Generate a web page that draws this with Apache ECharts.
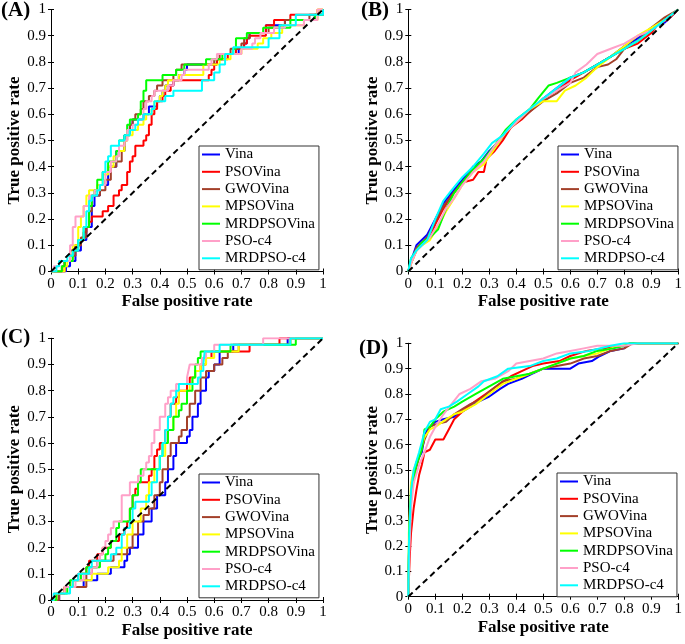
<!DOCTYPE html>
<html><head><meta charset="utf-8">
<script src="https://cdn.jsdelivr.net/npm/echarts@6/dist/echarts.min.js"></script>
<style>html,body{margin:0;padding:0;background:#fff}#c{width:685px;height:644px}</style>
</head><body><div id="c"></div>
<script>
const seriesNames = ['Vina','PSOVina','GWOVina','MPSOVina','MRDPSOVina','PSO-c4','MRDPSO-c4'];
const panelLabels = ['(A)','(B)','(C)','(D)'];
const tickLabels = ['0','0.1','0.2','0.3','0.4','0.5','0.6','0.7','0.8','0.9','1'];
const xAxisTitle = 'False positive rate';
const yAxisTitle = 'True positive rate';
const diagonal = [[0,0],[1,1]];

// ---- Panel A (step curves: [fpr, tpr] at start of each horizontal run)
const A_Vina = [[0,0],[0.055,0.02],[0.07,0.04],[0.09,0.08],[0.11,0.12],[0.13,0.17],[0.15,0.25],[0.16,0.29],[0.18,0.33],[0.21,0.40],[0.24,0.46],[0.27,0.52],[0.29,0.56],[0.30,0.58],[0.34,0.60],[0.36,0.63],[0.39,0.65],[0.40,0.67],[0.41,0.69],[0.42,0.71],[0.45,0.73],[0.47,0.75],[0.49,0.77],[0.50,0.79],[0.61,0.81],[0.64,0.83],[0.69,0.85],[0.71,0.87],[0.72,0.89],[0.73,0.91],[0.79,0.94],[0.86,0.96],[0.97,0.98],[1,1]];
const A_PSOVina = [[0,0],[0.05,0.04],[0.07,0.08],[0.09,0.10],[0.11,0.12],[0.12,0.15],[0.13,0.17],[0.14,0.19],[0.15,0.21],[0.19,0.23],[0.21,0.25],[0.23,0.29],[0.25,0.31],[0.26,0.33],[0.28,0.38],[0.29,0.42],[0.30,0.44],[0.31,0.48],[0.34,0.50],[0.35,0.52],[0.36,0.56],[0.37,0.60],[0.38,0.62],[0.39,0.65],[0.41,0.67],[0.42,0.69],[0.44,0.71],[0.45,0.73],[0.58,0.75],[0.59,0.77],[0.60,0.79],[0.61,0.81],[0.65,0.83],[0.68,0.85],[0.71,0.87],[0.72,0.89],[0.73,0.90],[0.79,0.94],[0.82,0.96],[0.88,0.98],[0.98,1],[1,1]];
const A_GWOVina = [[0,0],[0.04,0.02],[0.05,0.04],[0.07,0.06],[0.09,0.10],[0.11,0.13],[0.13,0.17],[0.14,0.23],[0.15,0.29],[0.18,0.31],[0.20,0.35],[0.22,0.40],[0.24,0.42],[0.26,0.46],[0.27,0.50],[0.28,0.54],[0.29,0.56],[0.30,0.58],[0.31,0.60],[0.33,0.62],[0.34,0.65],[0.36,0.67],[0.38,0.69],[0.39,0.71],[0.41,0.73],[0.45,0.75],[0.46,0.77],[0.48,0.79],[0.60,0.81],[0.62,0.83],[0.66,0.85],[0.70,0.87],[0.71,0.89],[0.73,0.91],[0.80,0.93],[0.84,0.94],[0.86,0.96],[0.95,0.98],[1,1]];
const A_MPSOVina = [[0,0],[0.05,0.02],[0.06,0.04],[0.08,0.10],[0.10,0.17],[0.11,0.21],[0.12,0.25],[0.13,0.29],[0.14,0.31],[0.17,0.33],[0.19,0.37],[0.21,0.40],[0.23,0.44],[0.25,0.46],[0.27,0.50],[0.28,0.52],[0.30,0.54],[0.32,0.56],[0.34,0.58],[0.35,0.60],[0.37,0.62],[0.38,0.65],[0.40,0.67],[0.41,0.69],[0.42,0.71],[0.43,0.73],[0.47,0.75],[0.56,0.79],[0.62,0.81],[0.66,0.83],[0.70,0.85],[0.76,0.87],[0.78,0.89],[0.81,0.91],[0.85,0.94],[0.93,0.96],[0.98,1],[1,1]];
const A_MRDPSOVina = [[0,0],[0.04,0.02],[0.05,0.04],[0.08,0.08],[0.10,0.12],[0.12,0.17],[0.14,0.25],[0.15,0.29],[0.16,0.31],[0.17,0.35],[0.19,0.38],[0.21,0.42],[0.24,0.46],[0.25,0.50],[0.27,0.52],[0.28,0.56],[0.29,0.58],[0.32,0.60],[0.33,0.65],[0.34,0.69],[0.35,0.73],[0.41,0.75],[0.46,0.77],[0.49,0.79],[0.57,0.81],[0.63,0.83],[0.67,0.85],[0.68,0.89],[0.72,0.91],[0.78,0.93],[0.88,0.96],[0.97,0.98],[1,1]];
const A_PSOc4 = [[0,0],[0.01,0.02],[0.03,0.04],[0.07,0.10],[0.08,0.17],[0.09,0.21],[0.12,0.25],[0.14,0.29],[0.16,0.31],[0.18,0.33],[0.20,0.38],[0.22,0.42],[0.24,0.44],[0.25,0.48],[0.27,0.50],[0.28,0.54],[0.30,0.56],[0.32,0.58],[0.34,0.62],[0.35,0.65],[0.37,0.67],[0.38,0.69],[0.43,0.71],[0.45,0.73],[0.48,0.75],[0.49,0.77],[0.58,0.79],[0.59,0.81],[0.61,0.83],[0.70,0.85],[0.74,0.87],[0.75,0.89],[0.77,0.91],[0.82,0.93],[0.86,0.94],[0.93,0.96],[0.98,1],[1,1]];
const A_MRDPSOc4 = [[0,0],[0.02,0.02],[0.03,0.04],[0.06,0.06],[0.08,0.08],[0.10,0.12],[0.12,0.17],[0.13,0.23],[0.14,0.27],[0.15,0.29],[0.17,0.31],[0.18,0.33],[0.19,0.38],[0.20,0.42],[0.21,0.44],[0.22,0.48],[0.25,0.50],[0.27,0.52],[0.29,0.54],[0.31,0.56],[0.32,0.58],[0.34,0.60],[0.37,0.62],[0.38,0.65],[0.42,0.67],[0.45,0.69],[0.555,0.73],[0.60,0.76],[0.62,0.79],[0.64,0.83],[0.67,0.856],[0.80,0.89],[0.84,0.94],[0.90,0.98],[1,1]];

// ---- Panel B
const B_Vina = [[0,0],[0.01,0.04],[0.03,0.10],[0.05,0.12],[0.07,0.14],[0.10,0.20],[0.13,0.26],[0.16,0.30],[0.20,0.35],[0.24,0.40],[0.27,0.42],[0.30,0.46],[0.34,0.50],[0.38,0.55],[0.42,0.59],[0.46,0.62],[0.50,0.66],[0.55,0.70],[0.60,0.74],[0.65,0.76],[0.70,0.79],[0.75,0.82],[0.80,0.86],[0.85,0.89],[0.90,0.93],[0.95,0.95],[1,1]];
const B_PSOVina = [[0,0],[0.01,0.03],[0.03,0.08],[0.05,0.10],[0.08,0.13],[0.10,0.18],[0.13,0.24],[0.16,0.29],[0.20,0.34],[0.24,0.35],[0.26,0.38],[0.28,0.38],[0.29,0.43],[0.32,0.46],[0.35,0.50],[0.38,0.55],[0.42,0.58],[0.46,0.62],[0.50,0.66],[0.55,0.69],[0.60,0.73],[0.65,0.76],[0.70,0.79],[0.75,0.82],[0.80,0.85],[0.85,0.87],[0.90,0.91],[0.93,0.95],[0.96,0.96],[1,1]];
const B_GWOVina = [[0,0],[0.01,0.04],[0.03,0.09],[0.05,0.11],[0.07,0.13],[0.10,0.19],[0.13,0.25],[0.16,0.29],[0.20,0.34],[0.24,0.39],[0.27,0.41],[0.29,0.43],[0.32,0.48],[0.36,0.53],[0.40,0.57],[0.45,0.61],[0.50,0.65],[0.55,0.68],[0.60,0.72],[0.65,0.74],[0.70,0.78],[0.74,0.79],[0.77,0.81],[0.80,0.85],[0.85,0.88],[0.90,0.93],[0.95,0.97],[1,1]];
const B_MPSOVina = [[0,0],[0.01,0.03],[0.03,0.08],[0.05,0.10],[0.08,0.12],[0.11,0.17],[0.14,0.23],[0.17,0.28],[0.20,0.33],[0.24,0.38],[0.28,0.41],[0.32,0.47],[0.36,0.53],[0.40,0.57],[0.45,0.62],[0.50,0.65],[0.55,0.65],[0.58,0.69],[0.62,0.71],[0.66,0.74],[0.70,0.78],[0.75,0.82],[0.80,0.86],[0.85,0.90],[0.90,0.93],[0.95,0.96],[1,1]];
const B_MRDPSOVina = [[0,0],[0.01,0.05],[0.03,0.08],[0.05,0.11],[0.08,0.13],[0.11,0.16],[0.14,0.24],[0.17,0.30],[0.20,0.34],[0.24,0.39],[0.28,0.43],[0.32,0.48],[0.36,0.54],[0.40,0.58],[0.45,0.62],[0.48,0.66],[0.52,0.71],[0.55,0.72],[0.60,0.74],[0.65,0.76],[0.70,0.79],[0.75,0.82],[0.80,0.85],[0.85,0.88],[0.90,0.92],[0.95,0.96],[1,1]];
const B_PSOc4 = [[0,0],[0.01,0.03],[0.03,0.08],[0.05,0.10],[0.08,0.13],[0.11,0.18],[0.14,0.24],[0.17,0.28],[0.20,0.33],[0.24,0.38],[0.28,0.42],[0.32,0.48],[0.36,0.53],[0.40,0.57],[0.45,0.62],[0.50,0.66],[0.55,0.69],[0.60,0.72],[0.62,0.76],[0.66,0.79],[0.70,0.83],[0.75,0.85],[0.80,0.87],[0.85,0.90],[0.90,0.92],[0.95,0.96],[1,1]];
const B_MRDPSOc4 = [[0,0],[0.01,0.05],[0.03,0.08],[0.05,0.10],[0.07,0.12],[0.10,0.20],[0.13,0.27],[0.16,0.31],[0.20,0.36],[0.24,0.40],[0.28,0.45],[0.31,0.49],[0.35,0.52],[0.40,0.58],[0.45,0.62],[0.50,0.66],[0.55,0.70],[0.60,0.74],[0.65,0.76],[0.70,0.79],[0.75,0.82],[0.80,0.85],[0.85,0.88],[0.90,0.92],[0.95,0.96],[1,1]];

// ---- Panel C (step curves)
const C_Vina = [[0,0],[0.03,0.025],[0.05,0.05],[0.12,0.075],[0.17,0.10],[0.22,0.125],[0.27,0.15],[0.28,0.175],[0.29,0.20],[0.32,0.25],[0.34,0.30],[0.37,0.35],[0.39,0.40],[0.42,0.45],[0.43,0.50],[0.45,0.55],[0.46,0.60],[0.50,0.625],[0.51,0.65],[0.52,0.70],[0.54,0.75],[0.55,0.80],[0.57,0.85],[0.58,0.875],[0.60,0.90],[0.62,0.95],[0.67,0.975],[0.87,1],[1,1]];
const C_PSOVina = [[0,0],[0.02,0.025],[0.05,0.05],[0.08,0.075],[0.10,0.10],[0.13,0.125],[0.14,0.15],[0.17,0.175],[0.19,0.20],[0.22,0.225],[0.25,0.25],[0.27,0.275],[0.28,0.30],[0.29,0.35],[0.30,0.40],[0.31,0.425],[0.32,0.45],[0.36,0.475],[0.37,0.50],[0.38,0.55],[0.39,0.575],[0.40,0.60],[0.42,0.65],[0.43,0.70],[0.44,0.75],[0.46,0.775],[0.47,0.80],[0.50,0.825],[0.51,0.85],[0.53,0.875],[0.55,0.90],[0.57,0.925],[0.59,0.95],[0.73,0.975],[0.84,1],[1,1]];
const C_GWOVina = [[0,0],[0.03,0.025],[0.05,0.05],[0.13,0.10],[0.15,0.125],[0.17,0.15],[0.23,0.175],[0.28,0.20],[0.30,0.25],[0.32,0.30],[0.34,0.325],[0.36,0.35],[0.38,0.40],[0.40,0.45],[0.41,0.50],[0.43,0.55],[0.44,0.60],[0.47,0.625],[0.48,0.65],[0.50,0.70],[0.51,0.75],[0.53,0.80],[0.55,0.85],[0.57,0.875],[0.60,0.90],[0.63,0.925],[0.65,0.95],[0.69,0.975],[0.88,1],[1,1]];
const C_MPSOVina = [[0,0],[0.02,0.025],[0.05,0.05],[0.08,0.075],[0.15,0.10],[0.21,0.125],[0.25,0.15],[0.26,0.20],[0.28,0.25],[0.30,0.30],[0.33,0.35],[0.35,0.40],[0.36,0.45],[0.38,0.50],[0.40,0.55],[0.42,0.60],[0.43,0.65],[0.45,0.70],[0.46,0.75],[0.47,0.80],[0.51,0.825],[0.52,0.85],[0.53,0.875],[0.55,0.90],[0.57,0.925],[0.60,0.95],[0.69,0.975],[0.88,1],[1,1]];
const C_MRDPSOVina = [[0,0],[0.02,0.025],[0.06,0.05],[0.07,0.075],[0.11,0.10],[0.13,0.125],[0.18,0.15],[0.20,0.175],[0.21,0.20],[0.22,0.225],[0.24,0.275],[0.25,0.30],[0.29,0.35],[0.30,0.40],[0.32,0.45],[0.33,0.50],[0.40,0.55],[0.41,0.60],[0.43,0.65],[0.45,0.70],[0.47,0.725],[0.48,0.75],[0.50,0.80],[0.52,0.85],[0.53,0.90],[0.54,0.925],[0.55,0.95],[0.66,0.975],[0.90,1],[1,1]];
const C_PSOc4 = [[0,0],[0.01,0.025],[0.05,0.05],[0.09,0.075],[0.12,0.10],[0.15,0.125],[0.17,0.15],[0.18,0.175],[0.19,0.20],[0.20,0.225],[0.21,0.25],[0.22,0.275],[0.23,0.30],[0.26,0.40],[0.29,0.45],[0.32,0.475],[0.34,0.50],[0.35,0.525],[0.36,0.55],[0.37,0.60],[0.38,0.65],[0.40,0.70],[0.42,0.75],[0.43,0.775],[0.44,0.80],[0.46,0.825],[0.50,0.85],[0.505,0.875],[0.51,0.90],[0.555,0.925],[0.57,0.95],[0.60,0.975],[0.78,1],[1,1]];
const C_MRDPSOc4 = [[0,0],[0.01,0.025],[0.07,0.05],[0.08,0.075],[0.10,0.10],[0.14,0.125],[0.15,0.15],[0.22,0.175],[0.24,0.20],[0.26,0.25],[0.27,0.275],[0.29,0.30],[0.30,0.35],[0.31,0.375],[0.36,0.40],[0.37,0.45],[0.39,0.50],[0.40,0.55],[0.41,0.60],[0.42,0.65],[0.43,0.70],[0.44,0.75],[0.45,0.775],[0.46,0.80],[0.47,0.825],[0.54,0.85],[0.55,0.875],[0.56,0.90],[0.565,0.95],[0.62,0.975],[0.88,1],[1,1]];

// ---- Panel D
const D_Vina = [[0,0],[0.002,0.15],[0.005,0.30],[0.01,0.40],[0.02,0.48],[0.03,0.53],[0.05,0.57],[0.06,0.63],[0.07,0.66],[0.09,0.68],[0.10,0.69],[0.13,0.70],[0.17,0.71],[0.18,0.72],[0.20,0.73],[0.23,0.75],[0.26,0.77],[0.30,0.79],[0.34,0.82],[0.37,0.84],[0.42,0.86],[0.46,0.88],[0.50,0.90],[0.60,0.90],[0.63,0.92],[0.68,0.93],[0.71,0.95],[0.75,0.97],[0.80,0.98],[0.82,1],[1,1]];
const D_PSOVina = [[0,0],[0.005,0.15],[0.01,0.25],[0.02,0.35],[0.03,0.42],[0.04,0.48],[0.05,0.52],[0.06,0.57],[0.08,0.58],[0.10,0.62],[0.13,0.62],[0.15,0.66],[0.17,0.70],[0.19,0.72],[0.22,0.75],[0.26,0.78],[0.30,0.81],[0.34,0.84],[0.38,0.87],[0.42,0.89],[0.46,0.91],[0.50,0.92],[0.56,0.93],[0.60,0.95],[0.66,0.97],[0.72,0.98],[0.80,0.99],[0.82,1],[1,1]];
const D_GWOVina = [[0,0],[0.003,0.20],[0.01,0.38],[0.02,0.47],[0.04,0.55],[0.06,0.62],[0.08,0.67],[0.10,0.68],[0.14,0.69],[0.17,0.72],[0.20,0.74],[0.23,0.76],[0.27,0.78],[0.30,0.81],[0.35,0.85],[0.40,0.86],[0.45,0.88],[0.50,0.90],[0.55,0.91],[0.60,0.92],[0.65,0.94],[0.70,0.95],[0.75,0.97],[0.80,0.98],[0.83,1],[1,1]];
const D_MPSOVina = [[0,0],[0.002,0.25],[0.01,0.45],[0.02,0.50],[0.04,0.56],[0.06,0.63],[0.08,0.66],[0.10,0.67],[0.14,0.70],[0.17,0.72],[0.20,0.73],[0.25,0.76],[0.30,0.80],[0.35,0.84],[0.40,0.86],[0.45,0.88],[0.50,0.90],[0.55,0.92],[0.60,0.94],[0.65,0.95],[0.70,0.96],[0.75,0.98],[0.79,0.99],[0.82,1],[1,1]];
const D_MRDPSOVina = [[0,0],[0.003,0.25],[0.01,0.40],[0.03,0.52],[0.05,0.58],[0.06,0.66],[0.08,0.67],[0.10,0.70],[0.13,0.73],[0.17,0.75],[0.20,0.77],[0.25,0.80],[0.30,0.83],[0.35,0.86],[0.40,0.87],[0.45,0.88],[0.50,0.90],[0.55,0.92],[0.60,0.94],[0.65,0.95],[0.70,0.97],[0.76,0.98],[0.80,0.99],[0.82,1],[1,1]];
const D_PSOc4 = [[0,0],[0.003,0.15],[0.01,0.35],[0.02,0.45],[0.04,0.52],[0.06,0.57],[0.08,0.63],[0.10,0.67],[0.13,0.72],[0.16,0.76],[0.19,0.80],[0.23,0.82],[0.27,0.85],[0.32,0.86],[0.37,0.89],[0.40,0.92],[0.45,0.93],[0.50,0.94],[0.55,0.96],[0.60,0.97],[0.65,0.98],[0.70,0.99],[0.80,0.99],[0.85,1],[1,1]];
const D_MRDPSOc4 = [[0,0],[0.002,0.20],[0.01,0.42],[0.02,0.50],[0.04,0.57],[0.06,0.65],[0.08,0.69],[0.10,0.70],[0.12,0.74],[0.15,0.75],[0.18,0.77],[0.22,0.80],[0.26,0.83],[0.28,0.85],[0.33,0.87],[0.37,0.90],[0.45,0.91],[0.50,0.93],[0.55,0.94],[0.60,0.96],[0.67,0.97],[0.75,0.99],[0.80,1],[1,1]];

const panelData = [
  [A_Vina, A_PSOVina, A_GWOVina, A_MPSOVina, A_MRDPSOVina, A_PSOc4, A_MRDPSOc4],
  [B_Vina, B_PSOVina, B_GWOVina, B_MPSOVina, B_MRDPSOVina, B_PSOc4, B_MRDPSOc4],
  [C_Vina, C_PSOVina, C_GWOVina, C_MPSOVina, C_MRDPSOVina, C_PSOc4, C_MRDPSOc4],
  [D_Vina, D_PSOVina, D_GWOVina, D_MPSOVina, D_MRDPSOVina, D_PSOc4, D_MRDPSOc4]
];
const panelStep = ['end', false, 'end', false];

const colors = ['#0000ff','#ff0000','#a3402a','#ffff00','#00ff00','#ffa0c8','#00ffff'];
const FONT = '"Liberation Serif","Times New Roman",serif';

const grids = [
  {left:51, top:9.5, width:272, height:262},
  {left:408.3, top:9.5, width:272.4, height:262},
  {left:51, top:338.3, width:272, height:261.7},
  {left:408.3, top:343.3, width:272.4, height:253.4}
];
const legendPos = [[199,146],[558,146],[199,474],[557,473]];
const labelPos = [[1,0],[361,0],[1,327],[359,338]];

const xAxes = [], yAxes = [], series = [], legends = [], titles = [];
const fmt = v => tickLabels[Math.round(v*10)];
grids.forEach((g, p) => {
  const common = {gridIndex:p, type:'value', min:0, max:1, interval:0.1,
    splitLine:{show:false},
    axisLine:{show:true, lineStyle:{color:'#000', width:1}},
    axisTick:{show:true, inside:true, length:3, lineStyle:{color:'#000'}}};
  xAxes.push(Object.assign({}, common, {position:'bottom',
    axisLabel:{show:true, formatter:fmt, color:'#000', fontFamily:FONT, fontSize:15, margin:5},
    name:xAxisTitle, nameLocation:'middle', nameGap:22,
    nameTextStyle:{color:'#000', fontFamily:FONT, fontSize:17, fontWeight:'bold'}}));
  xAxes.push(Object.assign({}, common, {position:'top', axisLabel:{show:false}}));
  yAxes.push(Object.assign({}, common, {position:'left',
    axisLabel:{show:true, formatter:fmt, color:'#000', fontFamily:FONT, fontSize:15, margin:5},
    name:yAxisTitle, nameLocation:'middle', nameGap:25,
    nameTextStyle:{color:'#000', fontFamily:FONT, fontSize:17, fontWeight:'bold'}}));
  yAxes.push(Object.assign({}, common, {position:'right', axisLabel:{show:false}}));
  panelData[p].forEach((d, i) => {
    series.push({type:'line', name:seriesNames[i], xAxisIndex:2*p, yAxisIndex:2*p,
      data:d, step:panelStep[p], showSymbol:false, symbol:'none', silent:true,
      lineStyle:{color:colors[i], width:2}, itemStyle:{color:colors[i]}, z:2});
  });
  series.push({type:'line', name:'chance', xAxisIndex:2*p, yAxisIndex:2*p, data:diagonal,
    showSymbol:false, symbol:'none', silent:true,
    lineStyle:{color:'#000', width:2, type:[6,4]}, z:3});
  legends.push({data:seriesNames, orient:'vertical', left:legendPos[p][0], top:legendPos[p][1],
    icon:'rect', itemWidth:18, itemHeight:2, itemGap:2.3,
    padding:[1,4,4,3], backgroundColor:'#fff', borderColor:'#333', borderWidth:1,
    selectedMode:false,
    textStyle:{color:'#000', fontFamily:FONT, fontSize:15, lineHeight:15}});
  titles.push({text:panelLabels[p], left:labelPos[p][0], top:labelPos[p][1], padding:0,
    textStyle:{color:'#000', fontFamily:FONT, fontSize:21, fontWeight:'bold'}});
});

const chart = echarts.init(document.getElementById('c'), null, {renderer:'canvas'});
chart.setOption({animation:false, backgroundColor:'#fff', title:titles, grid:grids,
  xAxis:xAxes, yAxis:yAxes, legend:legends, series:series});
</script></body></html>
